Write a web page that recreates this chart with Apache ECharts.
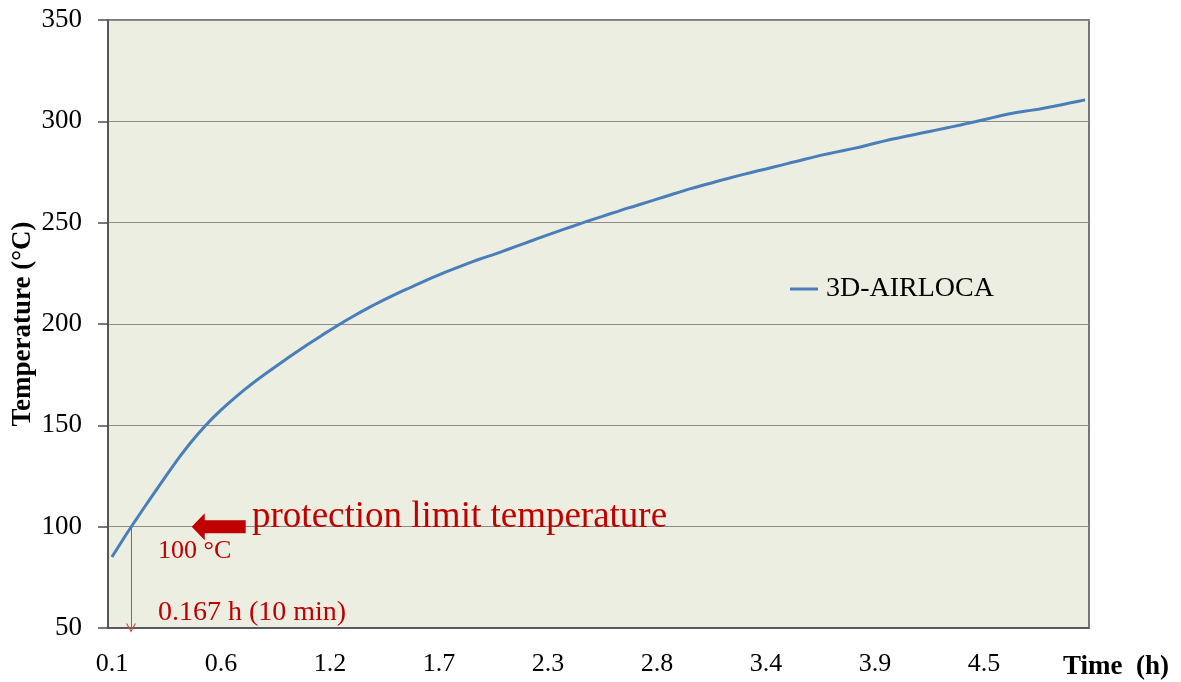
<!DOCTYPE html>
<html>
<head>
<meta charset="utf-8">
<script src="https://cdn.jsdelivr.net/npm/echarts@6/dist/echarts.min.js"></script>
<style>
  html, body { margin: 0; padding: 0; background: #ffffff; }
  #chart { width: 1181px; height: 682px; }
</style>
</head>
<body>
<div id="chart"></div>
<script>
// ---- data ----
// elapsed time of each sample, in hours (category axis)
const timeStartH = 200 / 3600;
const timeStepH = 2000 / 14 / 3600;
const sampleCount = 126;
const timeHours = Array.from({ length: sampleCount }, (_, i) => (timeStartH + i * timeStepH).toFixed(3));

// 3D-AIRLOCA temperature (°C)
const seriesName = '3D-AIRLOCA';
const temperature = [
  85.0, 91.1, 97.1, 102.9, 108.6, 114.2, 119.8, 125.3, 130.7, 136.0,
  140.9, 145.5, 149.8, 153.8, 157.5, 161.0, 164.3, 167.5, 170.5, 173.4,
  176.2, 178.9, 181.6, 184.3, 186.9, 189.5, 192.0, 194.5, 196.9, 199.3,
  201.6, 203.8, 206.0, 208.1, 210.1, 212.0, 213.9, 215.7, 217.4, 219.2,
  220.9, 222.6, 224.2, 225.8, 227.3, 228.8, 230.3, 231.7, 233.0, 234.2,
  235.6, 237.0, 238.4, 239.8, 241.2, 242.6, 244.0, 245.3, 246.7, 248.0,
  249.3, 250.6, 251.9, 253.1, 254.4, 255.6, 256.9, 258.0, 259.2, 260.4,
  261.6, 262.8, 264.0, 265.2, 266.4, 267.5, 268.6, 269.6, 270.7, 271.7,
  272.7, 273.7, 274.6, 275.6, 276.5, 277.5, 278.4, 279.4, 280.3, 281.3,
  282.2, 283.2, 284.0, 284.8, 285.6, 286.4, 287.2, 288.2, 289.2, 290.1,
  291.0, 291.8, 292.6, 293.4, 294.2, 295.0, 295.8, 296.6, 297.4, 298.2,
  299.1, 299.9, 300.8, 301.7, 302.6, 303.5, 304.2, 304.8, 305.4, 306.0,
  306.7, 307.4, 308.2, 309.0, 309.8, 310.6
];

// axis settings
const yMin = 50, yMax = 350, yStep = 50;
const xLabelEvery = 14;
const xTickLabels = ['0.1', '0.6', '1.2', '1.7', '2.3', '2.8', '3.4', '3.9', '4.5'];

// annotation (data space: sample index, °C)
const limitTemp = 100;
const limitCrossIndex = 2.45;     // where the curve reaches 100 °C
const limitArrowIndex = 13.72;    // big arrow
const limitTextIndex = 18.0;      // "protection limit temperature"
const noteIndex = 5.92;           // small notes
const noteTempValue = 88.0;
const noteTimeValue = 57.8;
const limitText = 'protection limit temperature';
const noteTemp = '100 °C';
const noteTime = '0.167 h (10 min)';

// ---- chart ----
const serif = '"Liberation Serif", "Times New Roman", serif';
const red = '#C00000';
const chart = echarts.init(document.getElementById('chart'), null, { renderer: 'canvas' });

chart.setOption({
  animation: false,
  backgroundColor: '#ffffff',
  grid: {
    left: 108, right: 92, top: 20, bottom: 54,
    containLabel: false,
    outerBoundsMode: 'none',
    show: true,
    backgroundColor: '#EBEEE0',
    borderColor: '#4d4d4d',
    borderWidth: 1.5
  },
  legend: {
    data: [seriesName],
    left: 790, top: 275,
    padding: 0,
    icon: 'path://M0,0 H28 V3 H0 Z',
    itemWidth: 28, itemHeight: 3,
    textStyle: { fontFamily: serif, fontSize: 28, color: '#000', padding: [0, 0, 0, 3] }
  },
  xAxis: [
    {
      type: 'category',
      data: timeHours,
      boundaryGap: true,
      axisLine: { show: true, onZero: false, lineStyle: { color: '#4d4d4d', width: 1.5 } },
      axisTick: { show: false },
      axisLabel: {
        interval: xLabelEvery - 1,
        margin: 23,
        fontFamily: serif, fontSize: 26, color: '#000',
        formatter: (v, idx) => xTickLabels[idx / xLabelEvery] !== undefined ? xTickLabels[idx / xLabelEvery] : Number(v).toFixed(1)
      },
      splitLine: { show: false },
      name: 'Time  (h)',
      nameLocation: 'end',
      nameGap: -26,
      nameMoveOverlap: false,
      nameTextStyle: {
        fontFamily: serif, fontSize: 27, fontWeight: 'bold', color: '#000',
        align: 'left', verticalAlign: 'top', padding: [26, 0, 0, 0]
      }
    },
    {
      type: 'value',
      min: -0.5, max: sampleCount - 0.5,
      show: false,
      axisLine: { onZero: false },
      splitLine: { show: false }
    }
  ],
  yAxis: {
    type: 'value',
    min: yMin, max: yMax, interval: yStep,
    axisLine: { show: true, onZero: false, lineStyle: { color: '#4d4d4d', width: 1.5 } },
    axisTick: { show: true, inside: false, length: 10, lineStyle: { color: '#4d4d4d', width: 1.5 } },
    axisLabel: { margin: 26, fontFamily: serif, fontSize: 27, color: '#000' },
    splitLine: { show: true, lineStyle: { color: '#8c8c8c', width: 1.2 } },
    name: 'Temperature (°C)',
    nameLocation: 'middle',
    nameGap: 71,
    nameMoveOverlap: false,
    nameTextStyle: { fontFamily: serif, fontSize: 27, fontWeight: 'bold', color: '#000' }
  },
  series: [
    {
      name: seriesName,
      type: 'line',
      data: temperature,
      showSymbol: false,
      symbol: 'none',
      lineStyle: { color: '#4A7EBB', width: 3 },
      itemStyle: { color: '#4A7EBB' },
      z: 3
    },
    {
      name: 'annotation',
      type: 'line',
      xAxisIndex: 1,
      data: [[limitCrossIndex, limitTemp]],
      symbol: 'none',
      lineStyle: { opacity: 0 },
      silent: true,
      z: 4,
      markLine: {
        silent: true,
        symbol: ['none', 'path://M5,0 L10,10 L8.8,10 L5,2.4 L1.2,10 L0,10 Z'],
        symbolSize: [10, 9],
        lineStyle: { color: '#D04545', width: 1, type: 'solid' },
        label: { show: false },
        data: [[
          { coord: [limitCrossIndex, limitTemp] },
          { coord: [limitCrossIndex, yMin] }
        ]]
      },
      markPoint: {
        silent: true,
        data: [
          {
            coord: [limitArrowIndex, limitTemp],
            symbol: 'path://M0,13.5 L13,0 L13,7 L54,7 L54,20 L13,20 L13,27 Z',
            symbolSize: [54, 27],
            itemStyle: { color: red },
            label: { show: false }
          },
          {
            coord: [limitTextIndex, limitTemp],
            symbol: 'circle', symbolSize: 0,
            label: {
              show: true, position: 'right', distance: 0, offset: [0, -9],
              formatter: limitText,
              fontFamily: serif, fontSize: 37, color: red
            }
          },
          {
            coord: [noteIndex, noteTempValue],
            symbol: 'circle', symbolSize: 0,
            label: {
              show: true, position: 'right', distance: 0,
              formatter: noteTemp,
              fontFamily: serif, fontSize: 26, color: red
            }
          },
          {
            coord: [noteIndex, noteTimeValue],
            symbol: 'circle', symbolSize: 0,
            label: {
              show: true, position: 'right', distance: 0,
              formatter: noteTime,
              fontFamily: serif, fontSize: 28, color: red
            }
          }
        ]
      }
    }
  ]
});
</script>
</body>
</html>
